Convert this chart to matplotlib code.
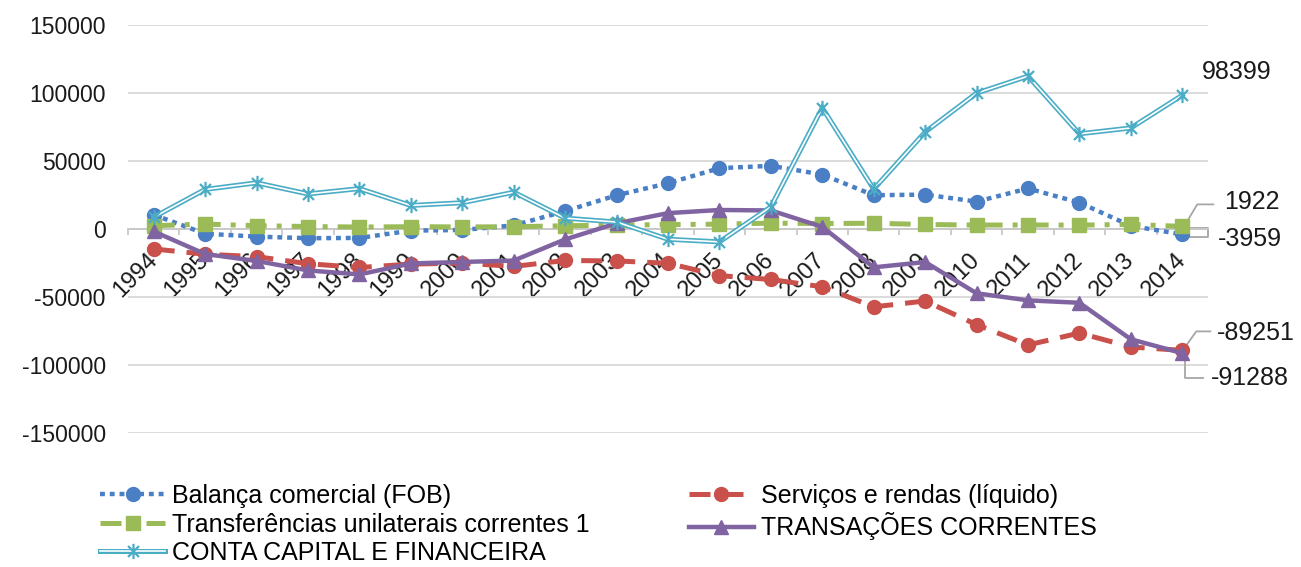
import matplotlib
matplotlib.use("Agg")
import matplotlib.pyplot as plt
from matplotlib.path import Path
from matplotlib.lines import Line2D
from matplotlib.legend_handler import HandlerTuple

# Balanço de pagamentos do Brasil, 1994-2014 (US$ milhões)
years = [str(y) for y in range(1994, 2015)]
balanca = [10466, -3466, -5599, -6753, -6575, -1199, -698, 2650, 13121, 24794,
           33641, 44703, 46457, 40032, 24836, 25290, 20147, 29793, 19395, 2286, -3959]
servicos = [-14692, -18541, -20350, -25522, -28299, -25825, -25048, -27503, -23148, -23483,
            -25198, -34276, -37120, -42510, -57252, -52930, -70322, -85251, -76493, -86761, -89251]
transferencias = [2414, 3622, 2446, 1823, 1458, 1689, 1521, 1638, 2390, 2867,
                  3236, 3558, 4306, 4029, 4224, 3338, 2902, 2984, 2846, 3366, 1922]
transacoes = [-1811, -18384, -23502, -30452, -33416, -25335, -24225, -23215, -7637, 4177,
              11679, 13985, 13643, 1551, -28192, -24302, -47273, -52473, -54249, -81108, -91288]
conta_capital = [8692, 29095, 33968, 25800, 29702, 17319, 19326, 27052, 8004, 5111,
                 -7523, -9464, 16299, 89086, 29352, 71301, 99912, 112380, 70010, 74300, 98399]

labels = ["Balança comercial (FOB)", "Serviços e rendas (líquido)",
          "Transferências unilaterais correntes 1", "TRANSAÇÕES CORRENTES",
          "CONTA CAPITAL E FINANCEIRA"]
yticks = [-150000, -100000, -50000, 0, 50000, 100000, 150000]

C_BLUE = "#4a7fc6"
C_RED = "#c9504b"
C_GREEN = "#9bbb59"
C_PURPLE = "#8064a2"
C_AQUA = "#4bacc6"
C_GRID = "#d9d9d9"
C_TEXT = "#1a1a1a"

plt.rcParams["font.family"] = ["Liberation Sans", "DejaVu Sans"]

W, H, DPI = 1301, 567, 100
fig = plt.figure(figsize=(W / DPI, H / DPI), dpi=DPI)
ax = fig.add_axes([128 / W, (H - 433) / H, 1080 / W, 408 / H])

x = list(range(len(years)))

# asterisk marker: vertical stroke plus an X
star = Path([(0, -1), (0, 1), (-0.72, -0.72), (0.72, 0.72), (-0.72, 0.72), (0.72, -0.72)],
            [Path.MOVETO, Path.LINETO] * 3)

l_bal, = ax.plot(x, balanca, color=C_BLUE, lw=3.2, linestyle=(0, (1.1, 1.1)),
                 marker="o", ms=10, mec=C_BLUE, mfc=C_BLUE, zorder=3)
l_ser, = ax.plot(x, servicos, color=C_RED, lw=3.6, linestyle=(0, (4.2, 2.4)),
                 marker="o", ms=10, mec=C_RED, mfc=C_RED, zorder=3)
l_tra, = ax.plot(x, transferencias, color=C_GREEN, lw=3.6, linestyle=(0, (4.2, 2.0, 1.0, 2.0)),
                 marker="s", ms=10, mec=C_GREEN, mfc=C_GREEN, zorder=3)
l_tc, = ax.plot(x, transacoes, color=C_PURPLE, lw=3.2, linestyle="-",
                marker="^", ms=10, mec=C_PURPLE, mfc=C_PURPLE, zorder=3)
l_cc_out, = ax.plot(x, conta_capital, color=C_AQUA, lw=3.6, solid_joinstyle="miter", zorder=3)
l_cc_in, = ax.plot(x, conta_capital, color="white", lw=1.2, zorder=3)
l_cc_mk, = ax.plot(x, conta_capital, linestyle="none", marker=star, ms=11,
                   mec=C_AQUA, mfc="none", mew=1.6, zorder=3)

ax.set_xlim(-0.5, len(years) - 0.5)
ax.set_ylim(-150000, 150000)
ax.set_yticks(yticks)
ax.set_yticklabels([str(v) for v in yticks])
ax.grid(axis="y", color=C_GRID, lw=1.3, zorder=0)
ax.set_axisbelow(True)

for side in ("top", "right", "left"):
    ax.spines[side].set_visible(False)
ax.spines["bottom"].set_position(("data", 0))
ax.spines["bottom"].set_color("#c8c8c8")
ax.spines["bottom"].set_linewidth(1.3)

ax.tick_params(axis="y", length=0, pad=16, labelsize=16.5, labelcolor=C_TEXT)
ax.set_xticks(x)
ax.set_xticklabels(years, rotation=45, ha="right", va="center", rotation_mode="anchor")
ax.tick_params(axis="x", which="major", length=0, pad=20, labelsize=17, labelcolor=C_TEXT)
ax.set_xticks([i - 0.5 for i in range(len(years) + 1)], minor=True)
ax.tick_params(axis="x", which="minor", length=4, width=1.3, color="#c8c8c8", direction="out")
for t in ax.get_xticklabels():
    t.set_zorder(4)

# value labels for the final year, with leader lines
def leader(yval, pts):
    base = ax.transData.transform((x[-1], yval))
    inv = ax.transData.inverted()
    xs, ys = [], []
    for dx, dy in pts:
        px, py = inv.transform((base[0] + dx, base[1] + dy))
        xs.append(px)
        ys.append(py)
    ax.plot(xs, ys, color="#a6a6a6", lw=1.3, clip_on=False, zorder=2)

def value_label(yval, dx, dy):
    ax.annotate(str(yval), xy=(x[-1], yval), xytext=(dx, dy), textcoords="offset pixels",
                ha="left", va="center", fontsize=18, color=C_TEXT, annotation_clip=False)

value_label(conta_capital[-1], 20, 23)
value_label(transferencias[-1], 42, 24)
leader(transferencias[-1], [(6, 7), (15, 22), (31, 22)])
value_label(balanca[-1], 36, -5)
leader(balanca[-1], [(7, 6), (26, 6), (26, -3), (8, -3)])
value_label(servicos[-1], 35, 17)
leader(servicos[-1], [(4, 5), (14, 19), (28, 19)])
value_label(transacoes[-1], 29, -25)
leader(transacoes[-1], [(3, -3), (3, -25), (21, -25)])

# legend
h_cc = (Line2D([], [], color=C_AQUA, lw=3.6),
        Line2D([], [], color="white", lw=1.2),
        Line2D([], [], linestyle="none", marker=star, ms=11, mec=C_AQUA, mfc="none", mew=1.6))
handles = [l_bal, l_tra, h_cc, l_ser, l_tc]
order_labels = [labels[0], labels[2], labels[4], labels[1], labels[3]]
fig.legend(handles, order_labels, loc="upper left", bbox_to_anchor=(100 / W, 1 - 484 / H),
           ncol=2, frameon=False, fontsize=18, handlelength=2.6, handletextpad=0.3,
           columnspacing=3.95, labelspacing=0.18, borderpad=0, borderaxespad=0,
           numpoints=1, handler_map={tuple: HandlerTuple(ndivide=1, pad=0)})

fig.savefig("out.png", dpi=DPI, facecolor="white")
